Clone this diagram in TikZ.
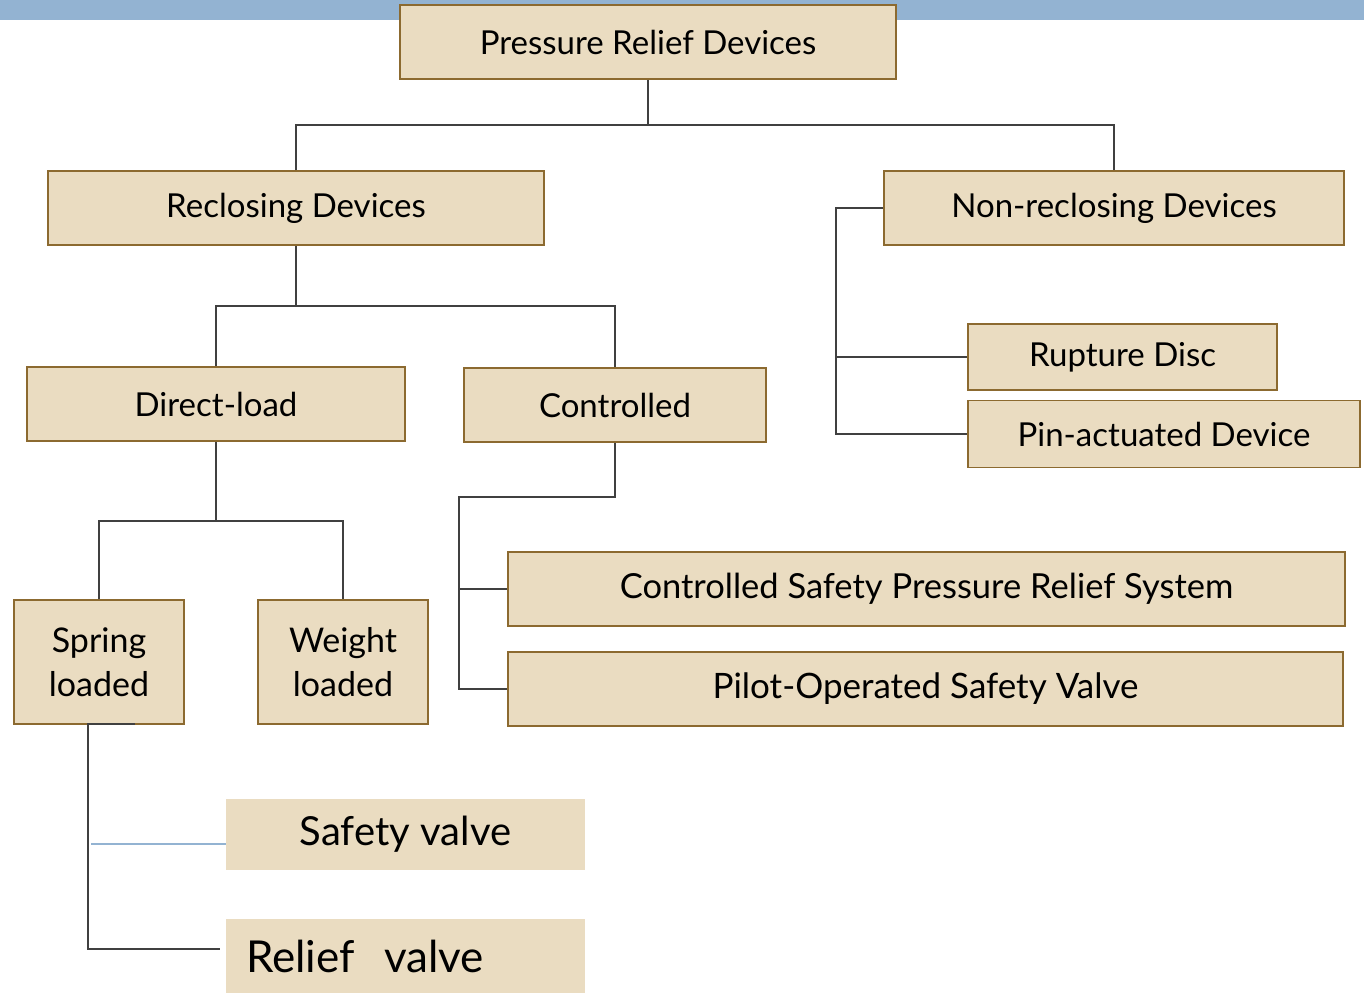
\documentclass[tikz,border=0pt]{standalone}
\usepackage{fontspec}
\setmainfont{Lato}
\definecolor{boxfill}{HTML}{EADCC1}
\definecolor{boxline}{HTML}{8C6A30}
\definecolor{conncol}{HTML}{404040}
\definecolor{bluebar}{HTML}{93B3D2}
\tikzset{
  box/.style={draw=boxline, line width=1.5pt, fill=boxfill, inner sep=0pt, align=center, font=\fontsize{33}{44}\selectfont},
  plainbox/.style={fill=boxfill, inner sep=0pt, font=\fontsize{40}{44}\selectfont},
  conn/.style={draw=conncol, line width=2pt},
  blueconn/.style={draw=bluebar, line width=1.5pt},
}
\begin{document}
\begin{tikzpicture}[x=1pt,y=-1pt]
\useasboundingbox (0,0) rectangle (1364,993);
\fill[bluebar] (0,0) rectangle (1364,20);
% nodes
\node[box, minimum width=496, minimum height=74] (root) at (648,42) {Pressure Relief Devices};
\node[box, minimum width=496, minimum height=74] (recl) at (296,208) {Reclosing Devices};
\node[box, minimum width=460, minimum height=74] (nonr) at (1114,208) {Non-reclosing Devices};
\node[box, minimum width=378, minimum height=74] (direct) at (216,404) {Direct-load};
\node[box, minimum width=302, minimum height=74] (ctrl) at (615,405) {Controlled};
\node[box, minimum width=309, minimum height=66] (rup) at (1122.5,357) {Rupture Disc};
\node[box, minimum width=392, minimum height=67] (pin) at (1164,434) {Pin-actuated Device};
\node[box, minimum width=170, minimum height=124, font=\fontsize{34}{44}\selectfont] (spring) at (99,662) {Spring\\loaded};
\node[box, minimum width=170, minimum height=124, font=\fontsize{34}{44}\selectfont] (weight) at (343,662) {Weight\\loaded};
\node[box, minimum width=837, minimum height=74, font=\fontsize{34.5}{44}\selectfont] (csprs) at (926.5,589) {Controlled Safety Pressure Relief System};
\node[box, minimum width=835, minimum height=74, font=\fontsize{35}{44}\selectfont] (pilot) at (925.5,689) {Pilot-Operated Safety Valve};
\node[plainbox, minimum width=359, minimum height=71] (safety) at (405.5,834.5) {Safety valve};
\node[plainbox, minimum width=359, minimum height=74, text width=319, align=left, font=\fontsize{44}{46}\selectfont] (relief) at (405.5,956) {Relief\ \ valve};
% connectors
\coordinate (j1) at (648,125);
\draw[conn] (root.south) -- (j1);
\draw[conn] (recl.north) |- (j1) -| (nonr.north);
\coordinate (j2) at (296,306);
\draw[conn] (recl.south) -- (j2);
\draw[conn] (direct.north) |- (j2) -| (ctrl.north);
\coordinate (j3) at (216,521);
\draw[conn] (direct.south) -- (j3);
\draw[conn] (spring.north) |- (j3) -| (weight.north);
\coordinate (nc) at (836,208);
\draw[conn] (nonr.west) -- (nc) |- (pin.west);
\draw[conn] (nc |- rup.west) -- (rup.west);
\coordinate (cc) at (459,497);
\draw[conn] (ctrl.south) |- (cc) |- (pilot.west);
\draw[conn] (cc |- csprs.west) -- (csprs.west);
\coordinate (sa) at (135,724);
\coordinate (sc) at (88,724);
\coordinate (re) at (220,949);
\draw[conn] (sa) -- (sc) |- (re);
\coordinate (bs) at (91,844);
\draw[blueconn] (bs) -- (bs -| safety.west);
\end{tikzpicture}
\end{document}
